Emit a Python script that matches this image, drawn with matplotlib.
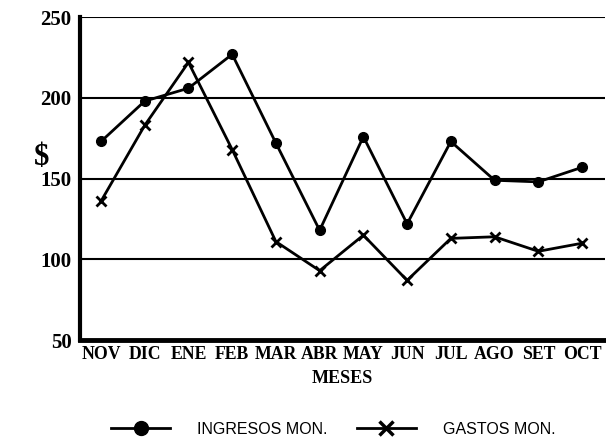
import matplotlib
matplotlib.use("Agg")
import matplotlib.pyplot as plt
from matplotlib.lines import Line2D

meses = ["NOV", "DIC", "ENE", "FEB", "MAR", "ABR", "MAY", "JUN", "JUL", "AGO", "SET", "OCT"]
ingresos = [173, 198, 206, 227, 172, 118, 176, 122, 173, 149, 148, 157]
gastos = [136, 183, 222, 168, 111, 93, 115, 87, 113, 114, 105, 110]
yticks = [50, 100, 150, 200, 250]

fig = plt.figure(figsize=(6.06, 4.40), dpi=100)
ax = fig.add_axes([0.132, 0.227, 0.866, 0.734])
x = list(range(len(meses)))

for yv in [100, 150, 200, 250]:
    ax.axhline(yv, color="black", lw=1.5, zorder=1)

ax.plot(x, ingresos, color="black", lw=2, marker="o", ms=7, zorder=3)
ax.plot(x, gastos, color="black", lw=2, marker="x", ms=7, mew=2, zorder=3)

ax.set_xlim(-0.48, 11.52)
ax.set_ylim(50, 250)
ax.set_yticks(yticks)
ax.set_xticks(x)
serif = ["Liberation Serif", "DejaVu Serif"]
ax.set_yticklabels([str(v) for v in yticks], fontfamily=serif, fontweight="bold", fontsize=15)
ax.set_xticklabels(meses, fontfamily=serif, fontweight="bold", fontsize=12.8)
ax.tick_params(axis="both", length=0, pad=4)
ax.tick_params(axis="y", pad=6)
for s in ["top", "right"]:
    ax.spines[s].set_visible(False)
ax.spines["left"].set_linewidth(3)
ax.spines["bottom"].set_linewidth(3.5)

ax.set_xlabel("MESES", fontfamily=serif, fontweight="bold", fontsize=13, labelpad=5)
fig.text(0.068, 0.643, "$", fontfamily=serif, fontweight="bold", fontsize=22, ha="center", va="center")

handles = [
    Line2D([], [], color="black", lw=2, marker="o", ms=10),
    Line2D([], [], color="black", lw=2, marker="x", ms=10, mew=2.5),
]
fig.legend(handles, ["INGRESOS MON.", "GASTOS MON."], loc="center", bbox_to_anchor=(0.55, 0.025),
           ncol=2, frameon=False, handlelength=3.7, columnspacing=1.8, handletextpad=1.7,
           prop={"family": ["Liberation Sans", "DejaVu Sans"], "size": 11.5})

fig.savefig("out.png", dpi=100)
